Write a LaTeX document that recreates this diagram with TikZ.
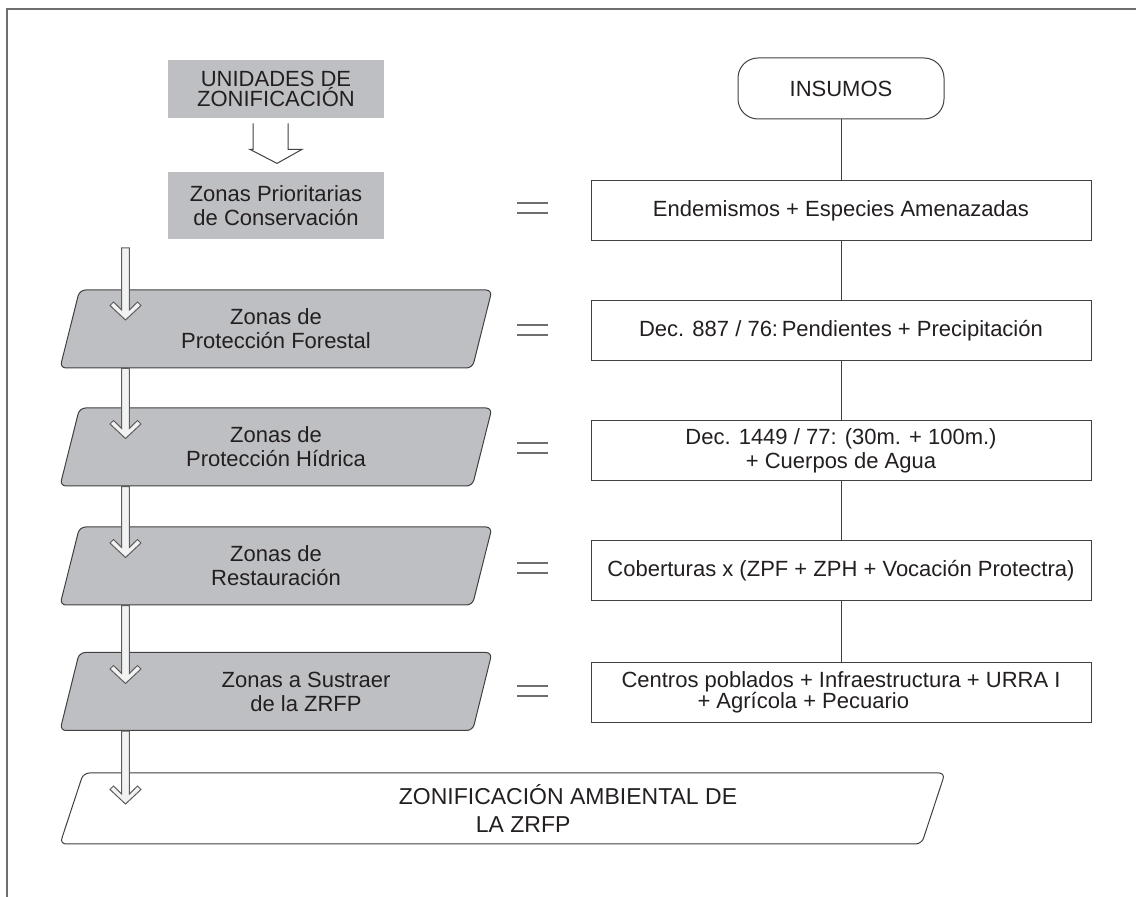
\documentclass[tikz,border=0pt]{standalone}
\usepackage{fontspec}
\setmainfont{Liberation Sans}
\usetikzlibrary{shapes.geometric}
\definecolor{relleno}{RGB}{190,191,194}
\definecolor{borde}{RGB}{65,64,66}
\definecolor{marco}{RGB}{110,110,112}
\definecolor{texto}{RGB}{35,31,32}
\definecolor{claro}{RGB}{242,242,242}

% flecha larga de la izquierda: #1 inicio, #2 largo hasta la punta
\newcommand{\flechaZ}[2]{%
\draw[flecha, shift={#1}] (-3.8,0) -- (-3.8,#2-10) -- (-12,#2-18)
-- (-15.5,#2-14.5) -- (0,#2) -- (15.5,#2-14.5) -- (12,#2-18)
-- (3.8,#2-10) -- (3.8,0) -- cycle;}

\begin{document}
\begin{tikzpicture}[x=0.5pt, y=-0.5pt, text=texto,
font=\fontsize{11}{12}\selectfont,
caja/.style={fill=relleno, align=center, inner sep=0pt, minimum width=108pt},
zona/.style={trapezium, trapezium left angle=64, trapezium right angle=116,
trapezium stretches body, draw=borde, fill=relleno, rounded corners=3pt,
line width=0.5pt, align=center, inner sep=0pt, minimum width=216pt, minimum height=39pt},
insumo/.style={draw=borde, fill=white, line width=0.5pt, align=center,
inner sep=0pt, minimum width=250pt, minimum height=30pt},
flecha/.style={fill=claro, draw=borde!85, line width=0.5pt},
igual/.style={draw=marco, line width=0.6pt}]
\useasboundingbox (0,0) rectangle (1136,897);
\draw[marco, line width=0.8pt] (1136,9) -- (7,9) -- (7,897);

% columna izquierda
\node[caja, minimum height=29pt, font=\fontsize{11}{10}\selectfont] (unidades) at (276,89)
{UNIDADES DE\\ZONIFICACIÓN};
\node[caja, minimum height=33.5pt] (prioritarias) at (276,205.5)
{Zonas Prioritarias\\de Conservación};
\draw[fill=white, draw=borde, line width=0.5pt, shift={(unidades.south)}]
(-23,5) -- (-23,31) -- (-26,31) -- (1,45) -- (26,31) -- (12,31) -- (12,5);

\node[zona] (forestal) at (276,329) {Zonas de\\Protección Forestal};
\node[zona] (hidrica) at (276,447) {Zonas de\\Protección Hídrica};
\node[zona] (restauracion) at (276,566) {Zonas de\\Restauración};
\node[zona] (sustraer) at (276,691.5)
{\hspace*{30pt}Zonas a Sustraer\\\hspace*{30pt}de la ZRFP};
\node[zona, fill=white, minimum width=442.5pt, minimum height=35.5pt,
align=left, font=\fontsize{11.5}{14}\selectfont] (zonif) at (502.5,808.5)
{\hspace*{65.5pt}ZONIFICACIÓN AMBIENTAL DE\\\hspace*{104pt}LA ZRFP};

\flechaZ{(125.5,248)}{72}
\flechaZ{(125.5,0 |- forestal.south)}{70}
\flechaZ{(125.5,0 |- hidrica.south)}{71}
\flechaZ{(125.5,0 |- restauracion.south)}{78}
\flechaZ{(125.5,0 |- sustraer.south)}{73}

% columna derecha
\node[draw=borde, line width=0.5pt, rounded corners=10pt, minimum width=103pt,
minimum height=30.5pt, inner sep=0pt] (insumos) at (841,88.5) {INSUMOS};
\node[insumo] (endemismos) at (841,211) {Endemismos + Especies Amenazadas};
\node[insumo] (decreto) at (841,331) {Dec. 887 / 76:\,Pendientes + Precipitación};
\node[insumo] (agua) at (841,450.5) {Dec. 1449 / 77: (30m. + 100m.)\\+ Cuerpos de Agua};
\node[insumo] (coberturas) at (841,570.5) {Coberturas x (ZPF + ZPH + Vocación Protectra)};
\node[insumo, align=left, font=\fontsize{11}{10.5}\selectfont] (poblados) at (841,692.5)
{Centros poblados + Infraestructura + URRA I\\\hspace*{38pt}+ Agrícola + Pecuario};
\draw[borde, line width=0.5pt] (insumos) -- (endemismos);
\draw[borde, line width=0.5pt] (endemismos) -- (decreto);
\draw[borde, line width=0.5pt] (decreto) -- (agua);
\draw[borde, line width=0.5pt] (agua) -- (coberturas);
\draw[borde, line width=0.5pt] (coberturas) -- (poblados);

% signos igual
\draw[igual] (517,203) -- (548,203) (517,213) -- (548,213);
\draw[igual] (517,325) -- (548,325) (517,335) -- (548,335);
\draw[igual] (517,443) -- (548,443) (517,453) -- (548,453);
\draw[igual] (517,563) -- (548,563) (517,573) -- (548,573);
\draw[igual] (517,686) -- (548,686) (517,696) -- (548,696);
\end{tikzpicture}
\end{document}
